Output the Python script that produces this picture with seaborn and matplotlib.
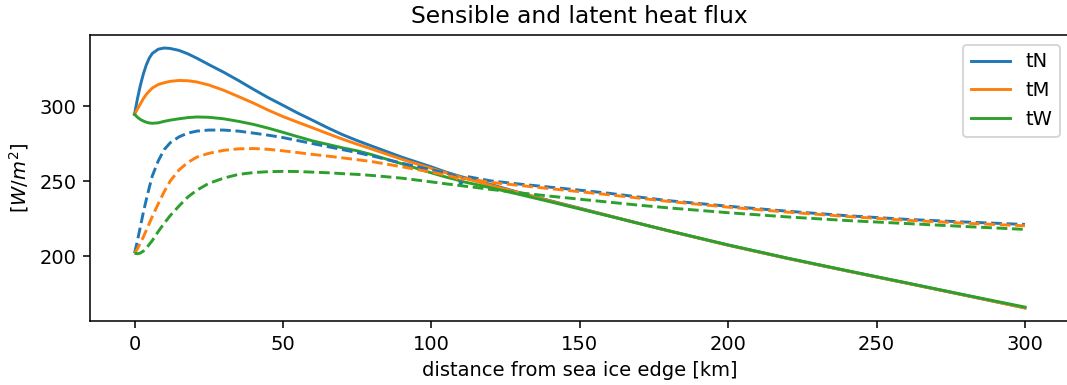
import numpy as np
import pandas as pd
import matplotlib
matplotlib.use("Agg")
import matplotlib.pyplot as plt
import seaborn as sns

# distance from sea ice edge [km]
distance = [0, 1, 2, 3, 4, 5, 6, 8, 10, 12, 15, 18, 21, 25, 30, 35, 40, 45, 50,
            55, 60, 65, 70, 75, 80, 90, 100, 105, 108, 110, 111, 115, 120, 130,
            140, 150, 160, 170, 180, 200, 220, 240, 260, 280, 300]

# solid lines (labelled)
tN = [294.5, 305, 314, 321.5, 327.5, 332, 335, 337.8, 338.6, 338.3, 337, 334.7,
      331.8, 327.6, 322.5, 317, 311.2, 305.6, 300.5,
      295.3, 290.5, 285.6, 281, 277, 273.3, 266, 259.5, 256, 254.2, 253, 252.5,
      250.3, 247.8, 242.2,
      237, 232, 226.9, 221.9, 216.9, 207.4, 198.6, 190.3, 182.2, 174, 165.7]
tM = [294.5, 298, 301.5, 305, 307.8, 310, 312, 314.3, 315.5, 316.4, 317, 316.8,
      316, 314, 310.5, 306.3, 302, 297.3, 293,
      289.2, 285.5, 281.7, 278, 274.6, 271.3, 264.6, 258.5, 255.5, 253.8, 252.5,
      252, 250, 247.2, 242,
      236.8, 231.8, 226.8, 221.8, 216.9, 207.4, 198.6, 190.3, 182.2, 174, 165.6]
tW = [294.5, 292.5, 291, 290, 289.2, 288.7, 288.5, 288.8, 289.8, 290.6, 291.5,
      292.3, 292.7, 292.5, 291.5, 289.8, 287.8, 285.3, 282.5,
      279.6, 276.8, 274.5, 272.2, 270.2, 267.6, 261.6, 255.5, 252.7, 251.2, 250,
      249.5, 247.8, 245.6, 241,
      236.3, 231.5, 226.7, 221.8, 217, 207.6, 198.8, 190.5, 182.4, 174.2, 166.2]

# dashed lines (unlabelled)
tN_d = [202, 210.5, 220, 229.5, 238, 246, 253.5, 263.5, 271, 275.5, 279.5, 282,
        283.3, 284, 284, 283.3, 282, 280.6, 279,
        277, 275, 273, 271, 269, 266.8, 262, 257.5, 255.5, 253.5, 248, 253.5,
        252, 250.2, 248,
        246, 244, 241.9, 239.4, 237, 233.3, 230, 227, 224.6, 222.8, 221.2]
tM_d = [202, 205, 209, 213, 217.5, 222, 226.5, 235, 243, 250, 257.5, 262.5,
        266, 268.5, 270.5, 271.5, 271.7, 271.2, 270.2,
        269, 267.8, 266.7, 265.5, 264.3, 263, 259.6, 256, 254, 252.5, 250, 252,
        250.8, 249.2, 247.1,
        245, 243, 240.9, 238.7, 236.5, 232.7, 229.4, 226.5, 224, 222, 220.3]
tW_d = [202, 201.7, 202.2, 203.5, 205.5, 208, 210.5, 216.5, 222, 227, 233.5,
        239.5, 244, 248.5, 252, 254.5, 255.7, 256.3, 256.5,
        256.4, 256, 255.6, 255, 254.5, 253.8, 252, 249.5, 248.2, 247.5, 247,
        246.7, 245.8, 244.5, 242.2,
        240, 238, 236, 234, 232.2, 229, 226.2, 223.8, 221.8, 219.8, 217.9]

labels = ["tN", "tM", "tW"]
colors = ["#1f77b4", "#ff7f0e", "#2ca02c"]

dpi = 140
fig = plt.figure(figsize=(1067 / dpi, 385 / dpi), dpi=dpi)
ax = fig.add_axes([90 / 1067, 64 / 385, 979.5 / 1067, 286 / 385])

for lab, col, ys in zip(labels, colors, [tN, tM, tW]):
    df = pd.DataFrame({"x": distance, "y": ys})
    sns.lineplot(data=df, x="x", y="y", ax=ax, color=col, lw=1.5, label=lab,
                 sort=False, estimator=None)
for col, ys in zip(colors, [tN_d, tM_d, tW_d]):
    df = pd.DataFrame({"x": distance, "y": ys})
    sns.lineplot(data=df, x="x", y="y", ax=ax, color=col, lw=1.5,
                 linestyle="--", sort=False, estimator=None)

ax.set_title("Sensible and latent heat flux")
ax.set_xlabel("distance from sea ice edge [km]")
ax.set_ylabel("[$W/m^2$]")
ax.set_yticks([200, 250, 300])
ax.set_xticks([0, 50, 100, 150, 200, 250, 300])
ax.spines["right"].set_visible(False)
ax.legend(loc="upper right")

fig.savefig("out.png", dpi=dpi)
